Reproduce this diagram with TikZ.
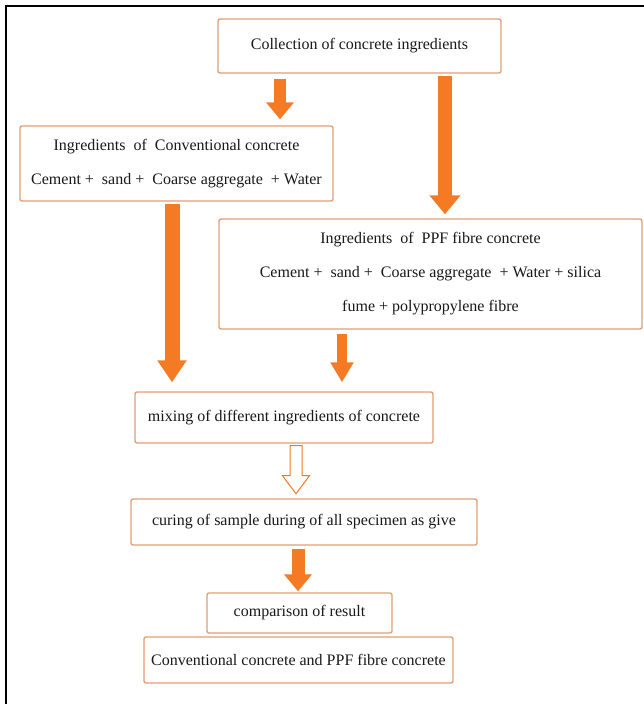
\documentclass[tikz,border=0pt]{standalone}
\usepackage{fontspec}
\setmainfont{Liberation Serif}
\usetikzlibrary{arrows.meta}
\definecolor{boxc}{RGB}{226,158,116}
\definecolor{arrowc}{RGB}{244,122,36}
\tikzstyle{stepbox}=[shape=rectangle,
                draw=boxc,
                line width=1.4pt,
                rounded corners=2pt,
                fill=white,
                text=black!90,
                align=center,
                inner sep=0pt,
                font=\fontsize{16}{34}\selectfont]
\tikzstyle{fat}=[draw=arrowc,
                line width=12pt,
                -{Triangle[width=27pt,length=17pt]}]
\tikzstyle{hollow}=[draw=arrowc,
                fill=white,
                line width=1pt]

\begin{document}
\begin{tikzpicture}[x=1pt,y=-1pt]
\useasboundingbox (0,0) rectangle (644,704);
% outer frame (top and left only)
\draw[line width=2pt] (644,6) -- (6,6) -- (6,704);

% process boxes
\node[stepbox,minimum width=283pt,minimum height=54pt] (collect) at (359.5,46) {Collection of concrete ingredients};
\node[stepbox,minimum width=313pt,minimum height=75pt] (conv) at (176.5,163.5) {Ingredients\ \ of\ \ Conventional concrete\\Cement +\ \ sand +\ \ Coarse aggregate\ \ + Water};
\node[stepbox,minimum width=423pt,minimum height=110pt] (ppf) at (430.5,274) {Ingredients\ \ of\ \ PPF fibre concrete\\Cement +\ \ sand +\ \ Coarse aggregate\ \ + Water + silica\\fume + polypropylene fibre};
\node[stepbox,minimum width=298pt,minimum height=51pt] (mix) at (284,417.5) {mixing of different ingredients of concrete};
\node[stepbox,minimum width=346pt,minimum height=46pt] (cure) at (304,522) {curing of sample during of all specimen as give};
\node[stepbox,minimum width=185pt,minimum height=40pt] (comp) at (299.5,613) {comparison of result};
\node[stepbox,minimum width=309pt,minimum height=46pt] (result) at (298.5,660) {Conventional concrete and PPF fibre concrete};

% arrow columns
\coordinate (colA) at (280,0);
\coordinate (colB) at (445,0);
\coordinate (colC) at (172,0);
\coordinate (colD) at (342,0);
\coordinate (colE) at (296,0);
\coordinate (colF) at (298,0);

% solid arrows
\draw[fat] (collect.south -| colA) ++(0,5) -- ([yshift=6pt]conv.north -| colA);
\draw[fat,line width=14pt,-{Triangle[width=30pt,length=19pt]}] (collect.south -| colB) ++(0,2) -- ([yshift=4pt]ppf.north -| colB);
\draw[fat,line width=15pt,-{Triangle[width=28pt,length=22pt]}] (conv.south -| colC) ++(0,2) -- ([yshift=9pt]mix.north -| colC);
\draw[fat,line width=10pt,-{Triangle[width=22pt,length=20pt]}] (ppf.south -| colD) ++(0,4) -- ([yshift=9pt]mix.north -| colD);
\draw[fat,line width=13pt] (cure.south -| colF) ++(0,3) -- ([yshift=1pt]comp.north -| colF);

% hollow arrow
\draw[hollow] (mix.south -| colE) ++(-6,2) -- ++(0,30) -- ++(-7.5,0) -- ++(13.5,18)
              -- ++(13.5,-18) -- ++(-7.5,0) -- ++(0,-30) -- cycle;
\end{tikzpicture}
\end{document}
